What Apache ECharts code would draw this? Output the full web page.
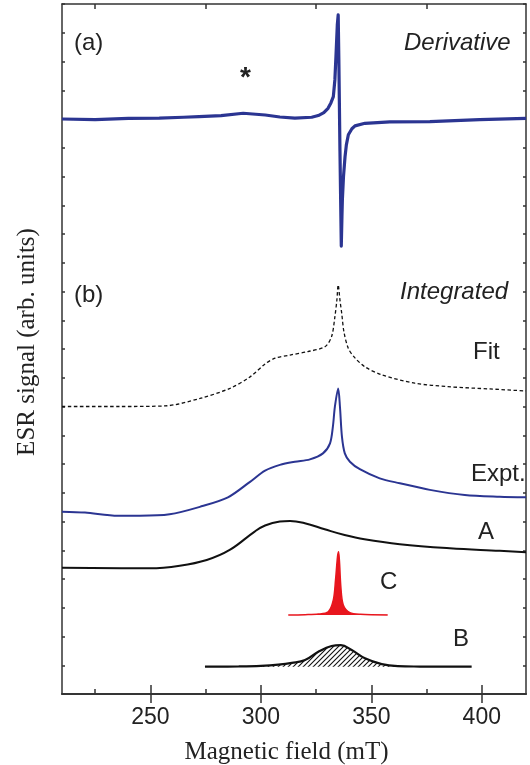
<!DOCTYPE html>
<html>
<head>
<meta charset="utf-8">
<script src="https://cdn.jsdelivr.net/npm/echarts@6/dist/echarts.min.js"></script>
<style>
html,body{margin:0;padding:0;background:#fff;}
#chart{width:530px;height:765px;}
</style>
</head>
<body>
<div id="chart"></div>
<script>
// ---- Data (magnetic field in mT, signal in arbitrary units with vertical offsets) ----
var derivField = [210, 225, 240, 254, 265, 272, 282, 292, 302, 308.6, 315.4, 323, 326, 328.5, 330.4, 331.7, 332.8, 333.5, 334.0, 334.6, 335.0, 335.3, 335.8, 336.4, 336.7, 336.9, 337.4, 338.1, 338.7, 339.6, 341.2, 342.6, 347.1, 358.4, 376.5, 399, 420];
var derivSignal = [20.0, 19.98, 20.02, 20.03, 20.06, 20.08, 20.12, 20.2, 20.14, 20.07, 20.03, 20.06, 20.12, 20.22, 20.37, 20.56, 20.78, 21.36, 22.2, 23.27, 23.62, 22.05, 18.9, 15.58, 16.6, 17.2, 18.0, 18.69, 19.1, 19.45, 19.66, 19.76, 19.85, 19.9, 19.91, 19.98, 20.02];

var fitField = [210, 236, 256.6, 272.4, 286, 295.1, 301.9, 306.4, 313.2, 321.3, 329, 332, 333.5, 334.4, 335, 335.8, 336.6, 337.6, 339.6, 342.6, 347.1, 354.7, 369.7, 384.7, 403.7, 420];
var fitSignal = [10.0, 10.0, 10.02, 10.28, 10.63, 11.03, 11.48, 11.68, 11.79, 11.91, 12.08, 12.43, 13.12, 13.7, 14.23, 13.7, 13.24, 12.6, 12.02, 11.69, 11.38, 11.1, 10.81, 10.69, 10.61, 10.54];

var exptField = [210, 220.4, 235.3, 245.2, 258.7, 272.4, 285.1, 295.1, 301.9, 308.6, 315.4, 322.2, 328.1, 331.3, 332.6, 333.5, 335.0, 335.8, 336.7, 338.0, 340.3, 344.8, 353.8, 362.9, 376.5, 392.3, 408.1, 420];
var exptSignal = [6.34, 6.31, 6.2, 6.2, 6.25, 6.51, 6.84, 7.38, 7.77, 7.97, 8.08, 8.16, 8.37, 8.72, 9.3, 9.99, 10.63, 9.99, 8.95, 8.37, 8.08, 7.82, 7.5, 7.33, 7.1, 6.92, 6.86, 6.84];

var aField = [210, 249.8, 263.3, 275.5, 285.9, 297.2, 301.9, 308.6, 313.2, 319.9, 328.9, 337.9, 346.9, 362.9, 385.5, 408.1, 420];
var aSignal = [4.39, 4.37, 4.46, 4.66, 5.01, 5.65, 5.86, 6.0, 6.02, 5.94, 5.73, 5.53, 5.38, 5.21, 5.07, 4.98, 4.93];

var cBase = 2.75;
var cField = [312.4, 320, 326, 330.5, 332.8, 333.8, 334.7, 335.2, 336.2, 337.3, 340.3, 345, 357.4];
var cSignal = [2.75, 2.76, 2.78, 2.86, 3.27, 3.97, 4.78, 4.95, 3.73, 3.1, 2.83, 2.77, 2.75];

var bBase = 0.95;
var bField = [274.7, 290, 300, 307.9, 314, 320, 326, 332, 336.2, 341.1, 347.1, 354.7, 362, 372, 385, 395.4];
var bSignal = [0.95, 0.96, 0.98, 1.02, 1.08, 1.18, 1.47, 1.67, 1.7, 1.53, 1.24, 1.04, 0.97, 0.955, 0.95, 0.95];

var xMajorTicks = [250, 300, 350, 400];
var xMinorTicks = [225, 275, 325, 375];

function zip(xs, ys) { return xs.map(function (x, i) { return [x, ys[i]]; }); }

// hatch pattern for B
var hatch = document.createElement('canvas');
hatch.width = 5; hatch.height = 5;
(function () {
  var c = hatch.getContext('2d');
  c.strokeStyle = '#111';
  c.lineWidth = 1.1;
  c.beginPath();
  c.moveTo(0, 5); c.lineTo(5, 0);
  c.moveTo(-1, 1); c.lineTo(1, -1);
  c.moveTo(4, 6); c.lineTo(6, 4);
  c.stroke();
})();

var BLUE = '#2b3592';
var SANS = '"Liberation Sans", Arial, sans-serif';
var SERIF = '"Liberation Serif", "Times New Roman", serif';

var chart = echarts.init(document.getElementById('chart'), null, {renderer: 'canvas'});

var axisLineStyle = {color: '#333', width: 1.5};

function xAxisDef(pos, ticks, len, withLabels) {
  var ax = {
    type: 'value', min: 210, max: 420, interval: 5, position: pos,
    axisLine: {show: true, lineStyle: axisLineStyle},
    axisTick: {show: true, inside: true, length: len, lineStyle: axisLineStyle, customValues: ticks},
    splitLine: {show: false},
    axisLabel: {show: false}
  };
  if (withLabels) {
    ax.axisLabel = {show: true, margin: 12, fontFamily: SANS, fontSize: 23, color: '#222', customValues: xMajorTicks};
    ax.name = 'Magnetic field (mT)';
    ax.nameLocation = 'middle';
    ax.nameGap = 46;
    ax.nameTextStyle = {fontFamily: SERIF, fontSize: 25, color: '#222', padding: [0, 15, 0, 0]};
  }
  return ax;
}

var option = {
  animation: false,
  backgroundColor: '#fff',
  grid: {left: 62, right: 4, top: 4, bottom: 71, containLabel: false, outerBoundsMode: 'none'},
  xAxis: [
    xAxisDef('bottom', xMajorTicks, 9, true),
    xAxisDef('top', xMajorTicks, 9, false),
    xAxisDef('bottom', xMinorTicks, 5, false),
    xAxisDef('top', xMinorTicks, 5, false)
  ],
  yAxis: [
    {
      type: 'value', min: 0, max: 24, interval: 1, position: 'left',
      name: 'ESR signal (arb. units)', nameLocation: 'middle', nameGap: 22,
      nameTextStyle: {fontFamily: SERIF, fontSize: 25, color: '#222', padding: [0, 0, 0, 14]},
      axisLine: {show: true, lineStyle: axisLineStyle},
      axisTick: {show: true, inside: true, length: 3, lineStyle: axisLineStyle},
      splitLine: {show: false}, axisLabel: {show: false}
    },
    {
      type: 'value', min: 0, max: 24, interval: 1, position: 'right',
      axisLine: {show: true, lineStyle: axisLineStyle},
      axisTick: {show: true, inside: true, length: 3, lineStyle: axisLineStyle},
      splitLine: {show: false}, axisLabel: {show: false}
    }
  ],
  series: [
    {
      name: 'Derivative', type: 'line', data: zip(derivField, derivSignal),
      showSymbol: false, smooth: false, lineStyle: {color: BLUE, width: 3.2, join: 'round'}, z: 5
    },
    {
      name: 'Fit', type: 'line', data: zip(fitField, fitSignal),
      showSymbol: false, smooth: 0.3, lineStyle: {color: '#111', width: 1.3, type: [3.5, 2.5]}
    },
    {
      name: 'Expt.', type: 'line', data: zip(exptField, exptSignal),
      showSymbol: false, smooth: 0.3, lineStyle: {color: BLUE, width: 2}
    },
    {
      name: 'A', type: 'line', data: zip(aField, aSignal),
      showSymbol: false, smooth: 0.4, lineStyle: {color: '#111', width: 2}
    },
    {
      name: 'C', type: 'line', data: zip(cField, cSignal),
      showSymbol: false, smooth: 0.3, lineStyle: {color: '#e8161e', width: 1.5},
      areaStyle: {color: '#e8161e', opacity: 1, origin: cBase}
    },
    {
      name: 'B', type: 'line', data: zip(bField, bSignal),
      showSymbol: false, smooth: 0.4, lineStyle: {color: '#111', width: 2.2},
      areaStyle: {color: {image: hatch, repeat: 'repeat'}, opacity: 1, origin: bBase}
    }
  ],
  graphic: [
    {type: 'text', left: 74, top: 31, style: {text: '(a)', font: '24px ' + SANS, fill: '#222'}},
    {type: 'text', left: 240, top: 64, style: {text: '*', font: 'bold 28px ' + SANS, fill: '#222'}},
    {type: 'text', left: 404, top: 31, style: {text: 'Derivative', font: 'italic 24px ' + SANS, fill: '#222'}},
    {type: 'text', left: 74, top: 283, style: {text: '(b)', font: '24px ' + SANS, fill: '#222'}},
    {type: 'text', left: 400, top: 280, style: {text: 'Integrated', font: 'italic 24px ' + SANS, fill: '#222'}},
    {type: 'text', left: 473, top: 340, style: {text: 'Fit', font: '24px ' + SANS, fill: '#222'}},
    {type: 'text', left: 471, top: 462, style: {text: 'Expt.', font: '24px ' + SANS, fill: '#222'}},
    {type: 'text', left: 478, top: 520, style: {text: 'A', font: '24px ' + SANS, fill: '#222'}},
    {type: 'text', left: 380, top: 570, style: {text: 'C', font: '24px ' + SANS, fill: '#222'}},
    {type: 'text', left: 453, top: 627, style: {text: 'B', font: '24px ' + SANS, fill: '#222'}}
  ]
};
chart.setOption(option);
</script>
</body>
</html>
